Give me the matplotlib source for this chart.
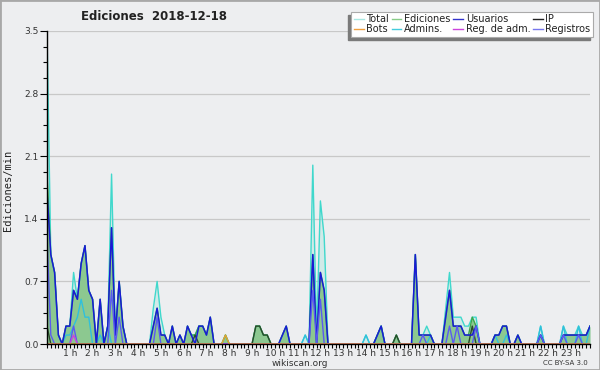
import numpy as np
import matplotlib
matplotlib.use("Agg")
import matplotlib.pyplot as plt
from matplotlib.lines import Line2D
from matplotlib.patches import Rectangle

# values per 10 minutes, in edits/10min (divide by 10 -> edits/min)
total = [
    35, 10, 8, 1, 0, 2, 2, 8, 5, 9, 11, 6,
    5, 0, 5, 0, 2, 19, 1, 7, 2, 0, 0, 0,
    0, 0, 0, 0, 4, 7, 3, 1, 0, 2, 0, 1,
    0, 2, 1, 1, 2, 2, 1, 3, 0, 0, 0, 1,
    0, 0, 0, 0, 0, 0, 0, 2, 2, 1, 1, 0,
    0, 0, 1, 2, 0, 0, 0, 0, 1, 0, 20, 1,
    16, 12, 0, 0, 0, 0, 0, 0, 0, 0, 0, 0,
    1, 0, 0, 1, 2, 0, 0, 0, 1, 0, 0, 0,
    0, 10, 1, 1, 2, 1, 0, 0, 0, 4, 8, 3,
    3, 3, 2, 2, 3, 3, 0, 0, 0, 0, 1, 1,
    2, 2, 0, 0, 1, 0, 0, 0, 0, 0, 2, 0,
    0, 0, 0, 0, 2, 1, 1, 1, 2, 1, 1, 2,
]
ediciones = [
    19, 10, 8, 1, 0, 2, 2, 6, 5, 9, 11, 6,
    5, 0, 5, 0, 2, 13, 1, 7, 2, 0, 0, 0,
    0, 0, 0, 0, 2, 4, 1, 1, 0, 2, 0, 1,
    0, 2, 1, 1, 2, 2, 1, 3, 0, 0, 0, 1,
    0, 0, 0, 0, 0, 0, 0, 2, 2, 1, 1, 0,
    0, 0, 1, 2, 0, 0, 0, 0, 0, 0, 10, 0,
    8, 6, 0, 0, 0, 0, 0, 0, 0, 0, 0, 0,
    0, 0, 0, 1, 2, 0, 0, 0, 1, 0, 0, 0,
    0, 10, 1, 1, 1, 1, 0, 0, 0, 3, 6, 2,
    2, 2, 1, 1, 3, 2, 0, 0, 0, 0, 1, 1,
    2, 2, 0, 0, 1, 0, 0, 0, 0, 0, 1, 0,
    0, 0, 0, 0, 1, 1, 1, 1, 1, 1, 1, 2,
]
usuarios = [
    17, 10, 8, 1, 0, 2, 2, 6, 5, 9, 11, 6,
    5, 0, 5, 0, 2, 13, 1, 7, 2, 0, 0, 0,
    0, 0, 0, 0, 2, 4, 1, 1, 0, 2, 0, 1,
    0, 2, 1, 0, 2, 2, 1, 3, 0, 0, 0, 0,
    0, 0, 0, 0, 0, 0, 0, 0, 0, 0, 0, 0,
    0, 0, 1, 2, 0, 0, 0, 0, 0, 0, 10, 0,
    8, 6, 0, 0, 0, 0, 0, 0, 0, 0, 0, 0,
    0, 0, 0, 1, 2, 0, 0, 0, 0, 0, 0, 0,
    0, 10, 1, 1, 1, 1, 0, 0, 0, 3, 6, 2,
    2, 2, 1, 1, 1, 2, 0, 0, 0, 0, 1, 1,
    2, 2, 0, 0, 1, 0, 0, 0, 0, 0, 1, 0,
    0, 0, 0, 0, 1, 1, 1, 1, 1, 1, 1, 2,
]
ip = [
    2, 0, 0, 0, 0, 0, 0, 0, 0, 0, 0, 0,
    0, 0, 0, 0, 0, 0, 0, 0, 0, 0, 0, 0,
    0, 0, 0, 0, 0, 0, 0, 0, 0, 0, 0, 0,
    0, 0, 0, 1, 0, 0, 0, 0, 0, 0, 0, 0,
    0, 0, 0, 0, 0, 0, 0, 2, 2, 1, 1, 0,
    0, 0, 0, 0, 0, 0, 0, 0, 0, 0, 0, 0,
    0, 0, 0, 0, 0, 0, 0, 0, 0, 0, 0, 0,
    0, 0, 0, 0, 0, 0, 0, 0, 1, 0, 0, 0,
    0, 0, 0, 0, 0, 0, 0, 0, 0, 0, 0, 0,
    0, 0, 0, 0, 2, 0, 0, 0, 0, 0, 0, 0,
    0, 0, 0, 0, 0, 0, 0, 0, 0, 0, 0, 0,
    0, 0, 0, 0, 0, 0, 0, 0, 0, 0, 0, 0,
]
bots = [0] * 144
bots[47] = 1
admins = [
    0, 0, 0, 0, 0, 1, 1, 2, 3, 5, 3, 3,
    0, 0, 1, 0, 2, 0, 0, 0, 0, 0, 0, 0,
    0, 0, 0, 0, 0, 0, 0, 0, 0, 0, 0, 0,
    0, 0, 0, 0, 0, 0, 0, 0, 0, 0, 0, 0,
    0, 0, 0, 0, 0, 0, 0, 0, 0, 0, 0, 0,
    0, 0, 0, 0, 0, 0, 0, 0, 1, 0, 0, 0,
    0, 0, 0, 0, 0, 0, 0, 0, 0, 0, 0, 0,
    1, 0, 0, 1, 2, 0, 0, 0, 0, 0, 0, 0,
    0, 0, 0, 0, 0, 1, 0, 0, 0, 0, 0, 0,
    0, 0, 0, 0, 0, 0, 0, 0, 0, 0, 1, 0,
    0, 1, 0, 0, 0, 0, 0, 0, 0, 0, 2, 0,
    0, 0, 0, 0, 2, 0, 0, 0, 2, 0, 0, 2,
]
reg_adm = [0] * 144
reg_adm[7] = 1
registros = [0] * 144
for i, v in [(0, 12), (1, 1), (7, 2), (17, 6), (19, 3), (29, 3), (70, 6), (72, 5),
             (99, 1), (106, 2), (108, 2), (113, 2), (130, 1), (136, 1), (140, 1)]:
    registros[i] = v

hour_labels = ["%d h" % h for h in range(1, 24)]
legend_labels = ["Total", "Bots", "Ediciones", "Admins.", "Usuarios", "Reg. de adm.", "IP", "Registros"]
legend_colors = ["#a8e8e2", "#f0a040", "#88cc88", "#44ccdd", "#3333cc", "#cc44dd", "#222222", "#7777ee"]

bg = "#edeef0"
x = np.arange(144) / 6.0
def per_min(a):
    return np.array(a) / 10.0

fig = plt.figure(figsize=(6, 3.7), dpi=100, facecolor=bg)
ax = fig.add_axes([47 / 600, 26 / 370, 543 / 600, 313 / 370], facecolor=bg)

ax.fill_between(x, per_min(total), color="#bfe8e4", alpha=0.6, lw=0)
ax.fill_between(x, per_min(ediciones), color="#8cc890", lw=0)
ax.plot(x, per_min(total), color="#40d8cc", lw=1.0)
ax.plot(x, per_min(admins), color="#30c0dc", lw=1.0)
ax.plot(x, per_min(ediciones), color="#3aa84a", lw=1.0)
ax.plot(x, per_min(ip), color="#2a4a2a", lw=1.0)
ax.plot(x, per_min(usuarios), color="#1a1ad6", lw=1.1)
ax.plot(x, per_min(registros), color="#5a5af0", lw=1.0)
ax.plot(x, per_min(reg_adm), color="#cc44dd", lw=1.0)
ax.plot(x, per_min(bots), color="#e8a030", lw=1.0)

ax.set_xlim(0, 143 / 6)
ax.set_ylim(0, 3.5)
ax.set_yticks(np.arange(0, 3.51, 0.7))
ax.set_yticklabels(["%.1f" % v for v in np.arange(0, 3.51, 0.7)])
ax.set_yticks(np.arange(0, 3.51, 0.175), minor=True)
ax.set_xticks(range(1, 24))
ax.set_xticklabels(hour_labels)
ax.set_xticks(np.arange(0, 144) / 6, minor=True)
ax.tick_params(axis="both", which="both", direction="out", color="#000000",
               labelsize=6.5, labelcolor="#333333", width=0.8)
ax.tick_params(axis="x", which="both", length=3, pad=0.5)
ax.tick_params(axis="y", which="major", length=5, pad=1)
ax.tick_params(axis="y", which="minor", length=3)
ax.grid(axis="y", color="#c8c8c8", lw=0.9)
ax.set_axisbelow(True)
for s in ["top", "right"]:
    ax.spines[s].set_visible(False)
for s in ["left", "bottom"]:
    ax.spines[s].set_linewidth(1.0)

fig.text(154 / 600, 1 - 16 / 370, "Ediciones  2018-12-18", ha="center", va="center",
         fontsize=8.5, fontweight="bold", color="#222222")
fig.text(8 / 600, 1 - 190 / 370, "Ediciones/min", rotation=90, ha="center", va="center",
         fontsize=7.5, family="DejaVu Sans Mono", color="#222222")
fig.text(300 / 600, 1 - 363 / 370, "wikiscan.org", ha="center", va="center",
         fontsize=6.5, color="#333333")
fig.text(565 / 600, 1 - 363 / 370, "CC BY-SA 3.0", ha="center", va="center",
         fontsize=5, color="#333333")

handles = [Line2D([], [], color=c, lw=1.0) for c in legend_colors]
leg = fig.legend(handles, legend_labels, ncol=4, loc="upper right",
                 bbox_to_anchor=(593 / 600, 1 - 12 / 370), fontsize=7,
                 handlelength=1.0, handletextpad=0.3, columnspacing=0.25,
                 labelspacing=0.0, borderpad=0.25, borderaxespad=0,
                 fancybox=False, framealpha=1, edgecolor="#aaaaaa")
leg.get_frame().set_linewidth(0.8)
leg.set_zorder(5)
for t in leg.get_texts():
    t.set_color("#222222")

# drop shadow of the legend box, shifted left and down
fig.canvas.draw()
bb = leg.get_window_extent().transformed(fig.transFigure.inverted())
fig.patches.append(Rectangle((bb.x0 - 3 / 600, bb.y0 - 3 / 370), bb.width, bb.height,
                             transform=fig.transFigure, color="#7a7a7a", zorder=4))

fig.patches.append(Rectangle((0, 0), 1, 1, transform=fig.transFigure, fill=False,
                             edgecolor="#a8a8a8", lw=2))

fig.savefig("out.png", dpi=100, facecolor=bg)
